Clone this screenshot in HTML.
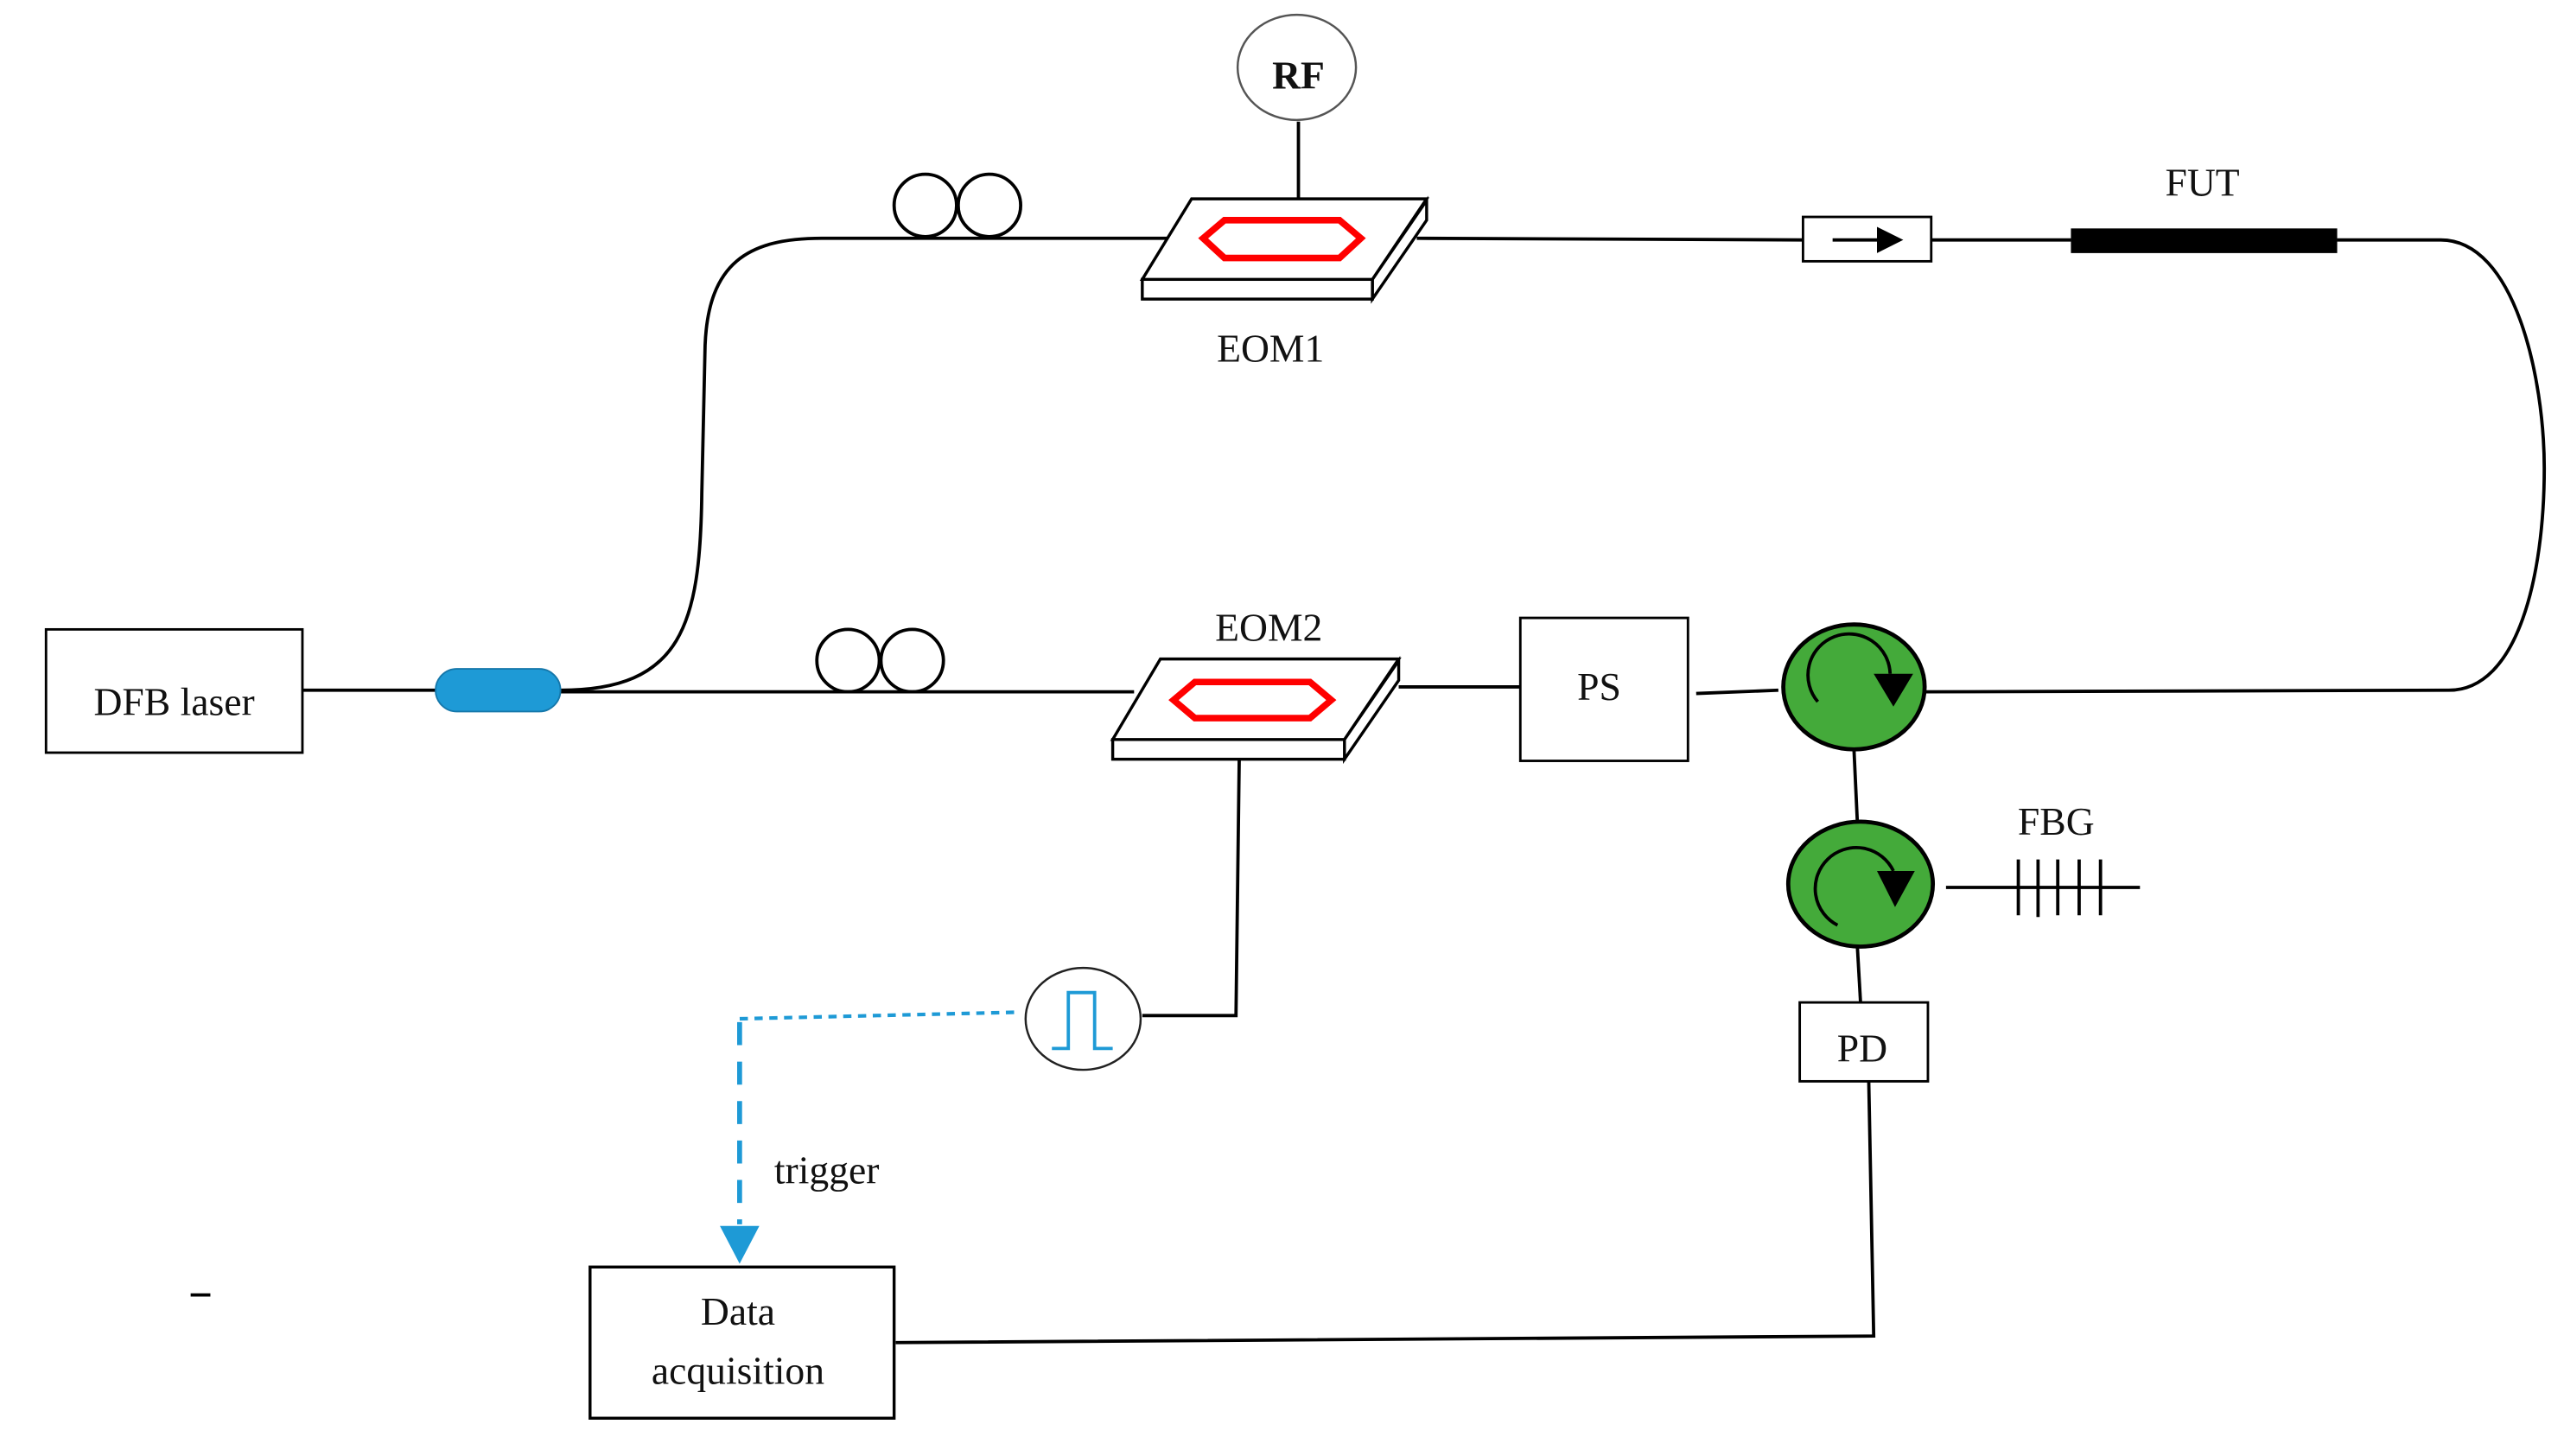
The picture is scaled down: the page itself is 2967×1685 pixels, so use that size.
<!DOCTYPE html>
<html><head><meta charset="utf-8"><style>
html,body{margin:0;padding:0;background:#fff;}
svg{display:block;}
text{font-family:"Liberation Serif",serif;fill:#111;}
</style></head><body>
<svg width="2967" height="1685" viewBox="0 0 1560 886" preserveAspectRatio="none" xmlns="http://www.w3.org/2000/svg">
<g fill="none" stroke="#000" stroke-width="2">
<!-- top fiber -->
<path d="M341,420 C415,420 426,380 427,300 L429,210 C431,160 455,145 500,145 L712,145"/>
<line x1="862" y1="145" x2="1097" y2="146"/>
<line x1="1175" y1="146" x2="1260" y2="146"/>
<path d="M1422,146 L1485,146 C1530,146 1548,230 1548,285 C1548,350 1532,420 1490,420 L1170,421"/>
<!-- top coils -->
<circle cx="563" cy="125" r="19"/><circle cx="602" cy="125" r="19"/>
<!-- bottom fiber -->
<line x1="184" y1="420" x2="265" y2="420"/>
<line x1="341" y1="421" x2="690" y2="421"/>
<circle cx="516" cy="402" r="19"/><circle cx="555" cy="402" r="19"/>
<!-- RF -->
<line x1="790" y1="74" x2="790" y2="121"/>
<!-- EOM2 to PS -->
<line x1="851" y1="418" x2="925" y2="418"/>
<line x1="1032" y1="422" x2="1082" y2="420"/>
<!-- circ link -->
<line x1="1128" y1="456" x2="1130" y2="499"/>
<line x1="1130" y1="575" x2="1132" y2="610"/>
<!-- FBG -->
<line x1="1184" y1="540" x2="1302" y2="540"/>
<line x1="1228" y1="523" x2="1228" y2="557"/>
<line x1="1240" y1="523" x2="1240" y2="558"/>
<line x1="1252" y1="523" x2="1252" y2="557"/>
<line x1="1265" y1="523" x2="1265" y2="557"/>
<line x1="1278" y1="523" x2="1278" y2="557"/>
<!-- PD to DAQ -->
<polyline points="1137,658 1140,813 545,817"/>
<!-- EOM2 to pulse -->
<polyline points="754,460 752,618 695,618"/>
</g>
<!-- RF circle -->
<ellipse cx="789" cy="41" rx="36" ry="32" fill="#fff" stroke="#555" stroke-width="1.3"/>
<text x="790" y="54" font-size="24" text-anchor="middle" font-weight="bold">RF</text>
<!-- EOM1 -->
<g stroke="#000" stroke-width="1.8" fill="#fff">
<polygon points="868,122 868,134 835,182 835,170"/>
<rect x="695" y="170" width="140" height="12"/>
<polygon points="725,121 868,121 835,170 695,170"/>
</g>
<polygon points="732,145 745,134 815,134 828,145 815,157 745,157" fill="none" stroke="#f00" stroke-width="4"/>
<text x="773" y="220" font-size="24" text-anchor="middle">EOM1</text>
<!-- EOM2 -->
<g stroke="#000" stroke-width="1.8" fill="#fff">
<polygon points="851,402 851,414 818,462 818,450"/>
<rect x="677" y="450" width="141" height="12"/>
<polygon points="706,401 851,401 818,450 677,450"/>
</g>
<polygon points="714,426 727,415 797,415 810,426 797,437 727,437" fill="none" stroke="#f00" stroke-width="4"/>
<text x="772" y="390" font-size="24" text-anchor="middle">EOM2</text>
<!-- isolator -->
<rect x="1097" y="132" width="78" height="27" fill="#fff" stroke="#000" stroke-width="1.5"/>
<line x1="1115" y1="146" x2="1145" y2="146" stroke="#000" stroke-width="2"/>
<polygon points="1142,138 1158,146 1142,154" fill="#000"/>
<!-- FUT -->
<rect x="1260" y="139" width="162" height="15" fill="#000"/>
<text x="1340" y="119" font-size="24" text-anchor="middle">FUT</text>
<!-- DFB -->
<rect x="28" y="383" width="156" height="75" fill="#fff" stroke="#000" stroke-width="1.5"/>
<text x="106" y="435" font-size="24" text-anchor="middle">DFB laser</text>
<!-- coupler -->
<rect x="265" y="407" width="76" height="26" rx="13" fill="#1e9ad6" stroke="#1577aa" stroke-width="1"/>
<!-- PS -->
<rect x="925" y="376" width="102" height="87" fill="#fff" stroke="#000" stroke-width="1.5"/>
<text x="973" y="426" font-size="24" text-anchor="middle">PS</text>
<!-- circulators -->
<g>
<ellipse cx="1128" cy="418" rx="43" ry="38" fill="#44aa3a" stroke="#000" stroke-width="2.5"/>
<path d="M1106,427 A25,25 0 1,1 1150,410" fill="none" stroke="#000" stroke-width="2"/>
<polygon points="1140,410 1164,410 1152,430" fill="#000"/>
<ellipse cx="1132" cy="538" rx="44" ry="38" fill="#44aa3a" stroke="#000" stroke-width="2.5"/>
<path d="M1118,563 A25,25 0 1,1 1152,530" fill="none" stroke="#000" stroke-width="2"/>
<polygon points="1142,530 1165,530 1153,552" fill="#000"/>
</g>
<text x="1251" y="508" font-size="24" text-anchor="middle">FBG</text>
<!-- PD -->
<rect x="1095" y="610" width="78" height="48" fill="#fff" stroke="#000" stroke-width="1.5"/>
<text x="1133" y="646" font-size="24" text-anchor="middle">PD</text>
<!-- pulse gen -->
<ellipse cx="659" cy="620" rx="35" ry="31" fill="#fff" stroke="#222" stroke-width="1.3"/>
<polyline points="640,638 650,638 650,604 666,604 666,638 677,638" fill="none" stroke="#1e9ad6" stroke-width="2"/>
<!-- trigger -->
<line x1="617" y1="616" x2="448" y2="620" stroke="#1e9ad6" stroke-width="2.2" stroke-dasharray="5,4"/>
<line x1="450" y1="622" x2="450" y2="745" stroke="#1e9ad6" stroke-width="3" stroke-dasharray="14,10"/>
<polygon points="438,746 462,746 450,769" fill="#1e9ad6"/>
<text x="503" y="720" font-size="24" text-anchor="middle">trigger</text>
<!-- DAQ -->
<rect x="359" y="771" width="185" height="92" fill="#fff" stroke="#000" stroke-width="1.8"/>
<text x="449" y="806" font-size="24" text-anchor="middle">Data</text>
<text x="449" y="842" font-size="24" text-anchor="middle">acquisition</text>
<line x1="116" y1="788" x2="128" y2="788" stroke="#000" stroke-width="2"/>
</svg>
</body></html>
